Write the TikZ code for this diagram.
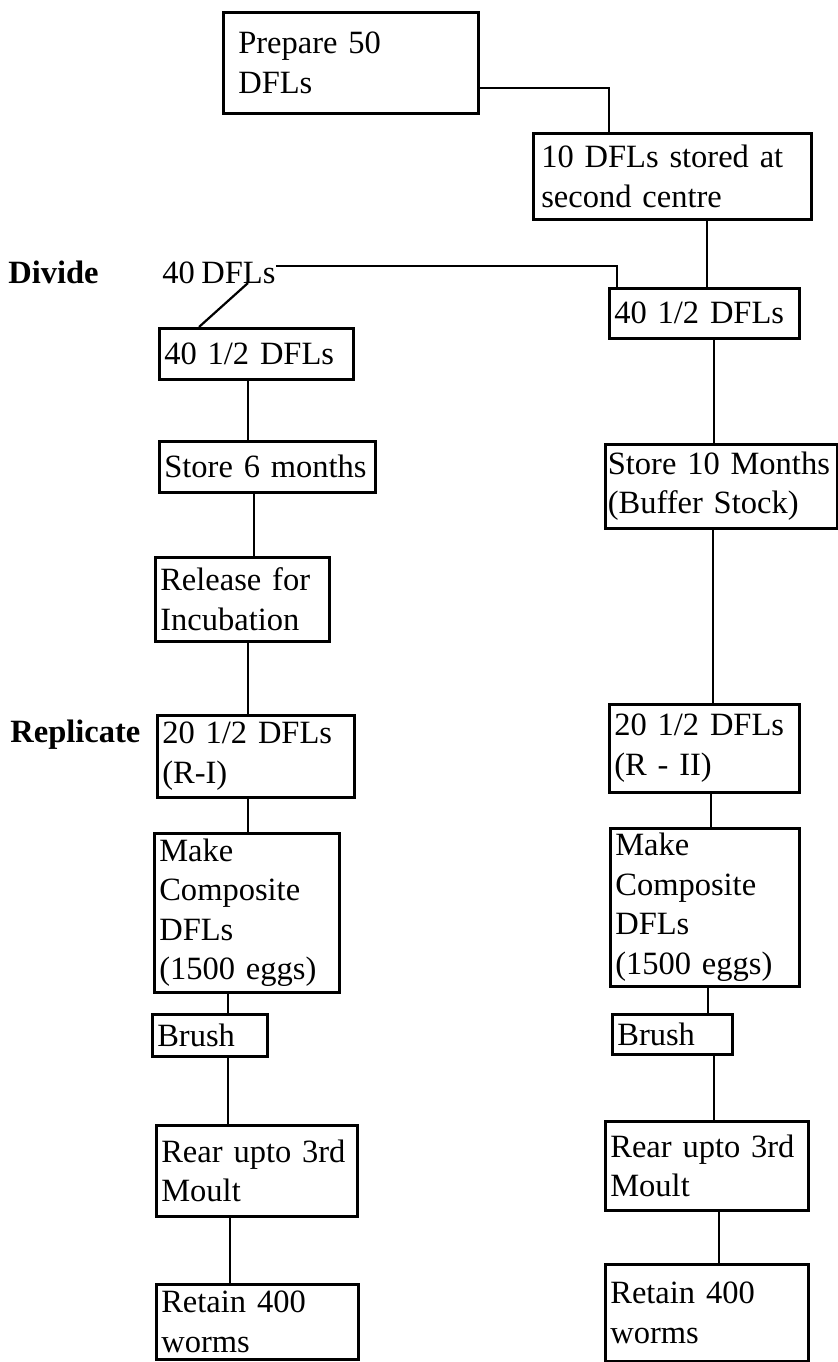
\documentclass[tikz,border=0pt]{standalone}
\usepackage{fontspec}
\setmainfont{Liberation Serif}[WordSpace=0.8]
\usepackage{tikz}
\usetikzlibrary{positioning,calc}
\tikzset{
  stepbox/.style={draw=black,line width=1.5pt,anchor=north west,align=left,
    inner xsep=0.1cm,inner ysep=1pt,font=\fontsize{18.5}{22.5}\selectfont},
  tag/.style={anchor=base west,inner sep=0pt,font=\fontsize{18.5}{22.5}\selectfont},
  link/.style={line width=1.25pt,color=black},
}

\begin{document}
\begin{tikzpicture}[x=0.02cm,y=-0.02cm]
  \useasboundingbox (0,0) rectangle (838,1362);

  % top of the scheme
  \node[stepbox,inner xsep=0.3cm,text width=4.5cm,minimum height=2.02cm]
    (prep) at (222,11) {Prepare 50\\DFLs};
  \node[stepbox,inner xsep=0.16cm,text width=5.24cm,minimum height=1.72cm]
    (stored) at (532,132) {10 DFLs stored at\\second centre};

  \node[tag,font=\fontsize{18.5}{22.5}\selectfont\bfseries] (divide) at (8,283) {Divide};
  \node[tag] (forty) at (162,283) {40 DFLs};
  \node[tag,font=\fontsize{18.5}{22.5}\selectfont\bfseries] (replicate) at (10,742) {Replicate};

  % left branch
  \node[stepbox,text width=3.68cm,minimum height=1.02cm] (lhalf) at (158,327) {40 1/2 DFLs};
  \node[stepbox,text width=4.12cm,minimum height=1.02cm] (store6) at (158,440) {Store 6 months};
  \node[stepbox,text width=3.28cm,minimum height=1.68cm] (release) at (154,556) {Release for\\Incubation};
  \node[stepbox,text width=3.74cm,minimum height=1.64cm] (repA) at (156,714) {20 1/2 DFLs\\(R-I)};
  \node[stepbox,text width=3.5cm,minimum height=3.18cm] (compA) at (153,832)
    {Make\\Composite\\DFLs\\(1500 eggs)};
  \node[stepbox,text width=2.1cm,minimum height=0.84cm] (brushA) at (151,1013) {Brush};
  \node[stepbox,text width=3.82cm,minimum height=1.82cm] (rearA) at (155,1124) {Rear upto 3rd\\Moult};
  \node[stepbox,text width=3.84cm,minimum height=1.5cm] (retainA) at (155,1283) {Retain 400\\worms};

  % right branch
  \node[stepbox,text width=3.6cm,minimum height=1.0cm] (rhalf) at (608,287) {40 1/2 DFLs};
  \node[stepbox,inner xsep=0.05cm,text width=4.54cm,minimum height=1.68cm] (store10) at (604,443)
    {Store 10 Months\\(Buffer Stock)};
  \node[stepbox,text width=3.6cm,minimum height=1.76cm] (repB) at (608,703) {20 1/2 DFLs\\(R - II)};
  \node[stepbox,text width=3.58cm,minimum height=3.16cm] (compB) at (609,827)
    {Make\\Composite\\DFLs\\(1500 eggs)};
  \node[stepbox,text width=2.2cm,minimum height=0.8cm] (brushB) at (611,1013) {Brush};
  \node[stepbox,text width=3.86cm,minimum height=1.78cm] (rearB) at (604,1120) {Rear upto 3rd\\Moult};
  \node[stepbox,text width=3.86cm,minimum height=1.94cm] (retainB) at (604,1263) {Retain 400\\worms};

  % connectors
  \coordinate (bend) at (609,88);
  \draw[link] (prep.east |- bend) -| (stored.north -| bend);
  \draw[link] (stored.south -| 707,0) -- (rhalf.north -| 707,0);
  \draw[link] (forty.east |- 0,266) -| (rhalf.north -| 617,0);
  \draw[link] (248,283) -- (lhalf.north -| 199,0);

  \draw[link] (lhalf.south -| 248,0) -- (store6.north -| 248,0);
  \draw[link] (store6.south -| 254,0) -- (release.north -| 254,0);
  \draw[link] (release.south -| 248,0) -- (repA.north -| 248,0);
  \draw[link] (repA.south -| 248,0) -- (compA.north -| 248,0);
  \draw[link] (compA.south -| 228,0) -- (brushA.north -| 228,0);
  \draw[link] (brushA.south -| 228,0) -- (rearA.north -| 228,0);
  \draw[link] (rearA.south -| 230,0) -- (retainA.north -| 230,0);

  \draw[link] (rhalf.south -| 714,0) -- (store10.north -| 714,0);
  \draw[link] (store10.south -| 713,0) -- (repB.north -| 713,0);
  \draw[link] (repB.south -| 711,0) -- (compB.north -| 711,0);
  \draw[link] (compB.south -| 708,0) -- (brushB.north -| 708,0);
  \draw[link] (brushB.south -| 714,0) -- (rearB.north -| 714,0);
  \draw[link] (rearB.south -| 719,0) -- (retainB.north -| 719,0);
\end{tikzpicture}
\end{document}
